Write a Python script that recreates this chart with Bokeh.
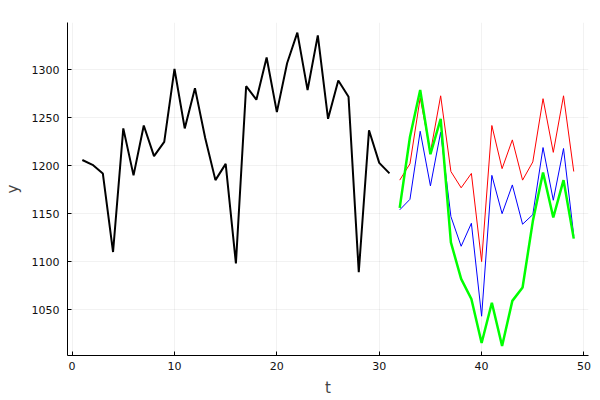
from bokeh.plotting import figure
from bokeh.embed import file_html
from bokeh.resources import INLINE
from bokeh.models import Range1d, FixedTicker

t_hist = list(range(1, 32))
y_hist = [1206, 1201, 1192, 1110, 1239, 1190, 1242, 1210, 1225, 1301,
          1239, 1281, 1229, 1185, 1202, 1098, 1283, 1269, 1313, 1256,
          1307, 1339, 1279, 1336, 1249, 1289, 1272, 1089, 1237, 1203, 1192]

t_fc = list(range(32, 50))
y_red = [1185, 1202, 1271, 1214, 1273, 1194, 1177, 1192, 1100, 1242,
         1197, 1227, 1185, 1204, 1270, 1214, 1273, 1194]
y_blue = [1154, 1165, 1236, 1179, 1235, 1147, 1116, 1140, 1043, 1190,
          1150, 1180, 1139, 1149, 1219, 1164, 1218, 1127]
y_green = [1156, 1230, 1279, 1212, 1249, 1120, 1082, 1061, 1015, 1057,
           1012, 1059, 1073, 1142, 1193, 1146, 1185, 1124]

x_ticks = [0, 10, 20, 30, 40, 50]
y_ticks = [1050, 1100, 1150, 1200, 1250, 1300]

p = figure(width=600, height=400, output_backend="svg", toolbar_location=None,
           x_range=Range1d(-0.45, 50.44), y_range=Range1d(1002, 1349.5),
           min_border_left=66, min_border_right=12, min_border_top=22, min_border_bottom=45)
p.outline_line_color = None

p.line(t_hist, y_hist, line_color="black", line_width=2)
p.line(t_fc, y_red, line_color="#ff0000", line_width=1)
p.line(t_fc, y_blue, line_color="#0000ff", line_width=1)
p.line(t_fc, y_green, line_color="#00ff00", line_width=2.5)

font = "DejaVu Sans"
for ax in (p.xaxis[0], p.yaxis[0]):
    ax.major_label_text_font = font
    ax.major_label_text_font_size = "11px"
    ax.major_label_text_color = "#111111"
    ax.axis_label_text_font = font
    ax.axis_label_text_font_size = "15px"
    ax.axis_label_text_font_style = "normal"
    ax.axis_line_color = "black"
    ax.axis_line_width = 1
    ax.major_tick_in = 4
    ax.major_tick_out = 0
    ax.minor_tick_line_color = None
    ax.major_tick_line_color = "black"

p.xaxis[0].major_label_standoff = 6
p.yaxis[0].major_label_standoff = 8
p.xaxis[0].axis_label_standoff = 6
p.yaxis[0].axis_label_standoff = 7
p.xaxis[0].ticker = FixedTicker(ticks=x_ticks)
p.yaxis[0].ticker = FixedTicker(ticks=y_ticks)
p.xaxis.axis_label = "t"
p.yaxis.axis_label = "y"

p.xgrid.ticker = FixedTicker(ticks=x_ticks)
p.ygrid.ticker = FixedTicker(ticks=y_ticks)
p.grid.grid_line_color = "black"
p.grid.grid_line_alpha = 0.1
p.grid.grid_line_width = 0.5

open("out.html", "w").write(file_html(p, INLINE))
